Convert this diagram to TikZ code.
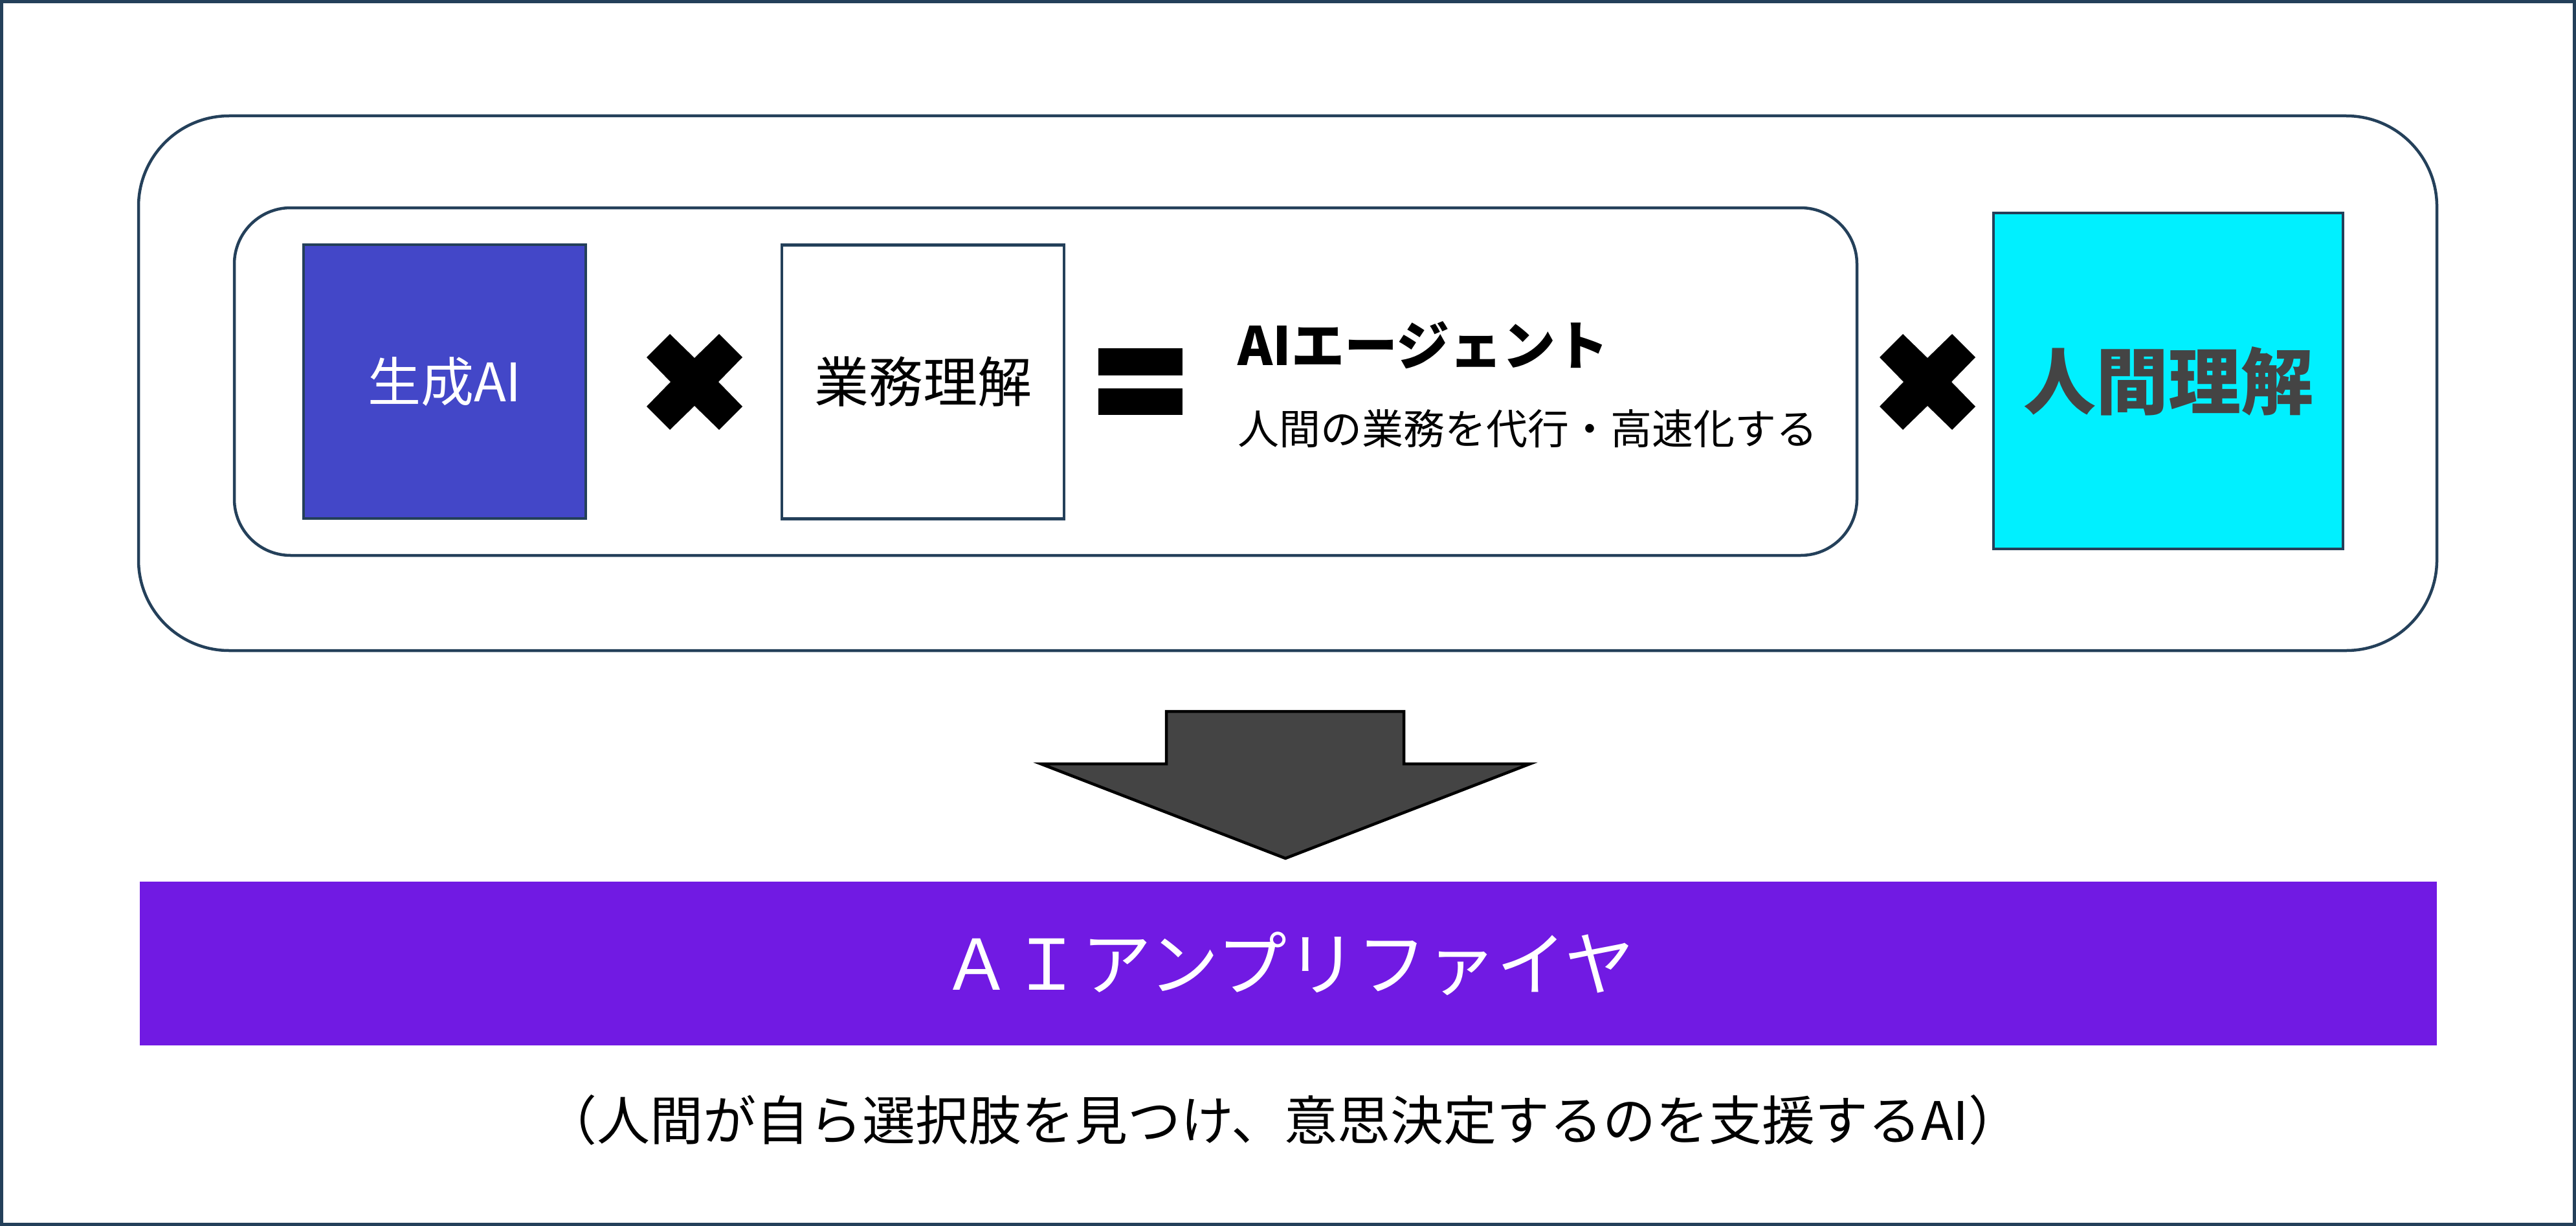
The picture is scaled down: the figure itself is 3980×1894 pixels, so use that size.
\documentclass[tikz,border=0pt]{standalone}
\usepackage{fontspec}
\setmainfont{Noto Sans CJK JP}
\definecolor{framecol}{RGB}{36,64,90}
\definecolor{genblue}{RGB}{67,71,200}
\definecolor{humcyan}{RGB}{0,240,255}
\definecolor{amppurple}{RGB}{113,26,227}
\definecolor{darkgray}{RGB}{68,68,68}
\tikzset{
  sqbox/.style={draw=framecol, line width=4.5pt, inner sep=0pt, minimum width=436pt, minimum height=423pt},
  container/.style={draw=framecol, line width=4.5pt},
  plaintext/.style={inner sep=0pt},
  timesmark/.pic={\fill[black] (-74,-38) -- (-38,-74) -- (0,-37) -- (38,-74) -- (74,-38) -- (37,0) -- (74,38) -- (38,74) -- (0,37) -- (-38,74) -- (-74,38) -- (-37,0) -- cycle;},
  bigarrow/.style={draw=black, fill=darkgray, line width=4.5pt, line join=miter}
}
\begin{document}
\begin{tikzpicture}[x=1pt,y=-1pt]
\useasboundingbox (0,0) rectangle (3980,1894);
\fill[white] (0,0) rectangle (3980,1894);
\draw[framecol, line width=5pt] (2.5,2.5) rectangle (3977.5,1891.5);
% containers
\draw[container, rounded corners=140pt] (214,179) rectangle (3765,1005);
\draw[container, rounded corners=87pt] (362,321) rectangle (2869,858);
% boxes
\node[sqbox, fill=genblue, text=white, font=\fontsize{82pt}{98pt}\selectfont] (gen) at (687,589.5) {生成AI};
\pic at (1073,590) {timesmark};
\node[sqbox, fill=white, font=\fontsize{84pt}{100pt}\selectfont] (biz) at (1426,590) {業務理解};
\fill[black] (1697,538) rectangle (1827,580);
\fill[black] (1697,600) rectangle (1827,641);
\node[plaintext, anchor=base west, font=\bfseries\fontsize{82pt}{98pt}\selectfont] (agent) at (1912,564) {AIエージェント};
\node[plaintext, anchor=base west, font=\fontsize{64pt}{76pt}\selectfont] (agentsub) at (1912,686) {人間の業務を代行・高速化する};
\pic at (2978,590) {timesmark};
\node[sqbox, fill=humcyan, minimum width=540pt, minimum height=519pt, text=darkgray, font=\bfseries\fontsize{112pt}{130pt}\selectfont] (hum) at (3350,588.5) {人間理解};
% arrow
\draw[bigarrow] (1802,1099) -- (2169,1099) -- (2169,1180) -- (2364,1180) -- (1986,1326) -- (1608,1180) -- (1802,1180) -- cycle;
% banner
\node[fill=amppurple, minimum width=3549pt, minimum height=253pt, inner sep=0pt, text=white, font=\fontsize{108pt}{122pt}\selectfont] (amp) at (1990.5,1488.5) {ＡＩアンプリファイヤ};
\node[plaintext, font=\fontsize{82pt}{98pt}\selectfont] (desc) at (1982,1730) {（人間が自ら選択肢を見つけ、意思決定するのを支援するAI）};
\end{tikzpicture}
\end{document}
